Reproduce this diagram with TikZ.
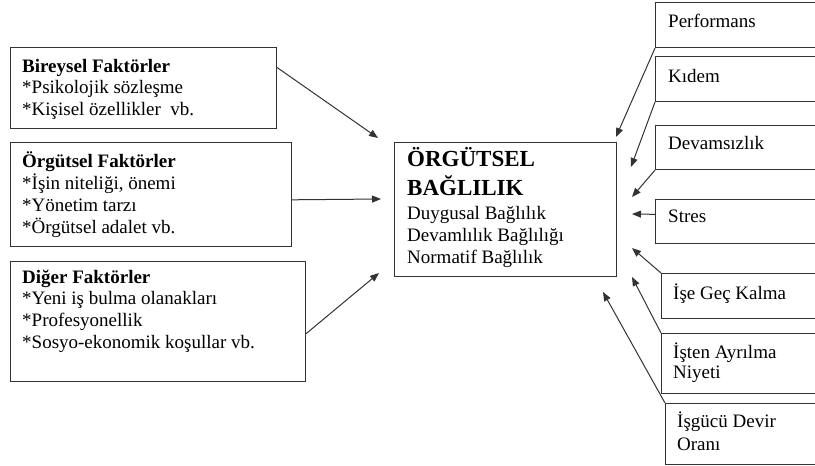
\documentclass[tikz,border=0pt]{standalone}
\usepackage{fontspec}
\setmainfont{Liberation Serif}
\usetikzlibrary{arrows.meta,calc}
\begin{document}
\begin{tikzpicture}[x=1pt,y=-1pt,
  box/.style={draw=black!80, line width=1.1pt, rectangle, inner sep=0pt, anchor=north west},
  txt/.style={anchor=base west, inner sep=0pt, align=left, font=\fontsize{19}{21.8}\selectfont},
  ttl/.style={anchor=base west, inner sep=0pt, align=left, font=\fontsize{23}{29}\selectfont\bfseries},
  arr/.style={draw=black!80, line width=1pt, -{Triangle[length=9pt,width=7pt]}}]
\useasboundingbox (0,0) rectangle (815,466);
\clip (0,0) rectangle (815,466);
% left boxes
\node[box, minimum width=266pt, minimum height=81pt] (b1) at (10,47) {};
\node[box, minimum width=281pt, minimum height=104pt] (b2) at (10,142) {};
\node[box, minimum width=295pt, minimum height=120pt] (b3) at (10,261) {};
% (base anchor of a multi-line text = baseline of its last line)
\node[txt] (b1t) at (22,115.6) {\textbf{Bireysel Faktörler}\\*Psikolojik sözleşme\\*Kişisel özellikler\ \ vb.};
\node[txt, font=\fontsize{19}{22}\selectfont] (b2t) at (22,233) {\textbf{Örgütsel Faktörler}\\*İşin niteliği, önemi\\*Yönetim tarzı\\*Örgütsel adalet vb.};
\node[txt] (b3t) at (22,348.4) {\textbf{Diğer Faktörler}\\*Yeni iş bulma olanakları\\*Profesyonellik\\*Sosyo-ekonomik koşullar vb.};
% center
\node[box, minimum width=222pt, minimum height=134pt] (c) at (394,142) {};
\node[ttl] (ct) at (407,195) {ÖRGÜTSEL\\BAĞLILIK};
\node[txt, font=\fontsize{19}{22}\selectfont] (cb) at (407,263) {Duygusal Bağlılık\\Devamlılık Bağlılığı\\Normatif Bağlılık};
% right boxes
\node[box, minimum width=180pt, minimum height=45pt] (p1) at (655,2) {};
\node[box, minimum width=180pt, minimum height=45pt] (p2) at (655,56) {};
\node[box, minimum width=180pt, minimum height=44pt] (p3) at (655,125) {};
\node[box, minimum width=180pt, minimum height=44pt] (p4) at (655,199) {};
\node[box, minimum width=180pt, minimum height=45pt] (p5) at (661,273) {};
\node[box, minimum width=180pt, minimum height=60pt] (p6) at (661,333) {};
\node[box, minimum width=180pt, minimum height=61pt] (p7) at (665,403) {};
\node[txt] (p1t) at (668,27) {Performans};
\node[txt] (p2t) at (668,82) {Kıdem};
\node[txt] (p3t) at (668,149) {Devamsızlık};
\node[txt] (p4t) at (668,222) {Stres};
\node[txt] (p5t) at (673,299) {İşe Geç Kalma};
\node[txt, font=\fontsize{19}{20.5}\selectfont] (p6t) at (673,378.5) {İşten Ayrılma\\Niyeti};
\node[txt, font=\fontsize{19}{23}\selectfont] (p7t) at (677,450) {İşgücü Devir\\Oranı};
% arrow tips
\coordinate (t1) at (378,138);
\coordinate (t2) at (381,199);
\coordinate (t3) at (379,273);
\coordinate (r1) at (616,137);
\coordinate (r2) at (631,167);
\coordinate (r3) at (632,197);
\coordinate (r4) at (632,214);
\coordinate (r5) at (632,248);
\coordinate (r6) at (632,277);
\coordinate (r7) at (603,292);
% connectors
\draw[arr] ($(b1.north east)!0.25!(b1.south east)$) -- (t1);
\draw[arr] ($(b2.north east)!0.55!(b2.south east)$) -- (t2);
\draw[arr] ($(b3.north east)!0.6!(b3.south east)$) -- (t3);
\draw[arr] (p1.south west) -- (r1);
\draw[arr] (p2.south west) -- (r2);
\draw[arr] (p3.south west) -- (r3);
\draw[arr] ($(p4.north west)!0.34!(p4.south west)$) -- (r4);
\draw[arr] (p5.north west) -- (r5);
\draw[arr] (p6.north west) -- (r6);
\draw[arr] (p7.north west) -- (r7);
\end{tikzpicture}
\end{document}
